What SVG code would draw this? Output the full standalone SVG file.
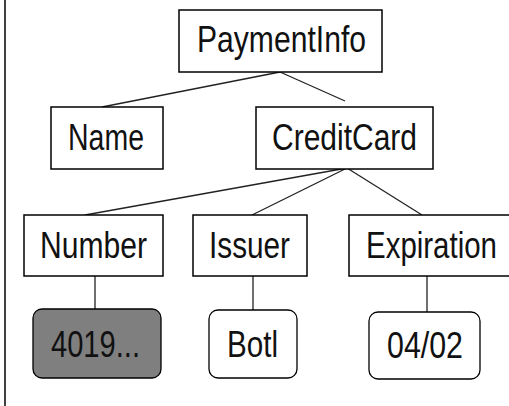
<svg xmlns="http://www.w3.org/2000/svg" width="509" height="406" viewBox="0 0 509 406">
  <style>
    .box { fill: #ffffff; stroke: #000000; stroke-width: 1.5; }
    .leaf { stroke: #000000; stroke-width: 1.3; }
    .val { fill: #ffffff; }
    .dark { fill: #7f7f7f; }
    .lbl { font-family: "Liberation Sans", Arial, sans-serif; font-size: 36px; fill: #111111; text-anchor: middle; }
    .edge { stroke: #222222; stroke-width: 1.3; fill: none; }
  </style>
  <rect x="0" y="0" width="509" height="406" fill="#ffffff"/>
  <line x1="5" y1="0" x2="5" y2="406" stroke="#000000" stroke-width="1.5"/>

  <g id="connectors">
    <line class="edge" x1="280" y1="72" x2="102" y2="107"/>
    <line class="edge" x1="280" y1="72" x2="345" y2="101"/>
    <line class="edge" x1="347" y1="168" x2="85" y2="215"/>
    <line class="edge" x1="347" y1="168" x2="252" y2="215"/>
    <line class="edge" x1="347" y1="168" x2="422" y2="215"/>
    <line class="edge" x1="95" y1="276" x2="95" y2="309"/>
    <line class="edge" x1="253" y1="276" x2="253" y2="310"/>
    <line class="edge" x1="427" y1="276" x2="427" y2="312"/>
  </g>

  <g id="paymentinfo">
    <rect class="box" x="179" y="10" width="203" height="62"/>
    <text class="lbl" x="281.5" y="52" textLength="169" lengthAdjust="spacingAndGlyphs">PaymentInfo</text>
  </g>
  <g id="name">
    <rect class="box" x="51" y="107" width="112" height="62"/>
    <text class="lbl" x="106" y="150" textLength="76" lengthAdjust="spacingAndGlyphs">Name</text>
  </g>
  <g id="creditcard">
    <rect class="box" x="256" y="107" width="177" height="62"/>
    <text class="lbl" x="344.5" y="150" textLength="145" lengthAdjust="spacingAndGlyphs">CreditCard</text>
  </g>
  <g id="number">
    <rect class="box" x="24" y="215" width="139" height="61"/>
    <text class="lbl" x="93.5" y="258" textLength="107" lengthAdjust="spacingAndGlyphs">Number</text>
  </g>
  <g id="issuer">
    <rect class="box" x="193" y="215" width="114" height="61"/>
    <text class="lbl" x="249.5" y="258" textLength="81" lengthAdjust="spacingAndGlyphs">Issuer</text>
  </g>
  <g id="expiration">
    <rect class="box" x="349" y="215" width="172" height="61"/>
    <text class="lbl" x="431.5" y="258" textLength="131" lengthAdjust="spacingAndGlyphs">Expiration</text>
  </g>
  <g id="number-value">
    <rect class="leaf dark" x="33" y="309" width="128" height="69" rx="9"/>
    <text class="lbl" x="95.5" y="357" textLength="89" lengthAdjust="spacingAndGlyphs">4019...</text>
  </g>
  <g id="issuer-value">
    <rect class="leaf val" x="209" y="310" width="88" height="68" rx="9"/>
    <text class="lbl" x="252.5" y="357" textLength="51" lengthAdjust="spacingAndGlyphs">Botl</text>
  </g>
  <g id="expiration-value">
    <rect class="leaf val" x="369" y="312" width="111" height="67" rx="9"/>
    <text class="lbl" x="425" y="358" textLength="76" lengthAdjust="spacingAndGlyphs">04/02</text>
  </g>
</svg>
